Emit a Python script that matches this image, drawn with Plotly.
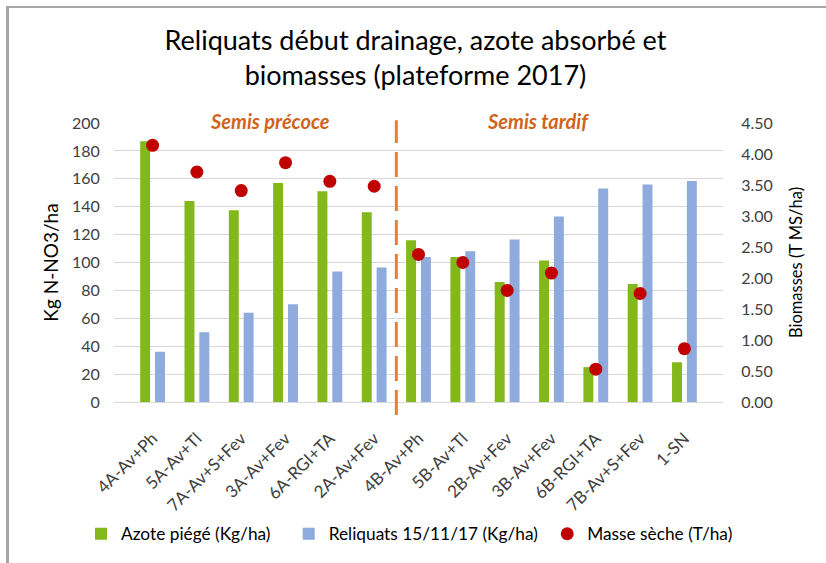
import plotly.graph_objects as go

categories = ["4A-Av+Ph", "5A-Av+Tl", "7A-Av+S+Fev", "3A-Av+Fev", "6A-RGI+TA", "2A-Av+Fev",
              "4B-Av+Ph", "5B-Av+Tl", "2B-Av+Fev", "3B-Av+Fev", "6B-RGI+TA", "7B-Av+S+Fev", "1-SN"]
azote_piege = [187, 144, 137.5, 157, 151, 136, 116, 104, 86, 101.5, 25, 84.5, 28.5]
reliquats = [36, 50, 64, 70, 93.5, 96.5, 104, 108, 116.5, 133, 153, 156, 158.5]
masse_seche = [4.14, 3.71, 3.41, 3.86, 3.56, 3.48, 2.38, 2.25, 1.80, 2.08, 0.53, 1.75, 0.86]
left_ticks = [0, 20, 40, 60, 80, 100, 120, 140, 160, 180, 200]
right_ticks = [0, 0.5, 1, 1.5, 2, 2.5, 3, 3.5, 4, 4.5]
series_names = ["Azote piégé (Kg/ha)", "Reliquats 15/11/17 (Kg/ha)", "Masse sèche (T/ha)"]

FONT = "Lato"
W, H = 826, 563
L, R, T, B = 114, 103, 123, 161
PW, PH = W - L - R, H - T - B
NB = "\u00a0"

fig = go.Figure()
fig.add_trace(go.Bar(x=categories, y=azote_piege, name=series_names[0] + NB * 3,
                     marker=dict(color="#82B81A", line=dict(width=0))))
fig.add_trace(go.Bar(x=categories, y=reliquats, name=series_names[1] + NB,
                     marker=dict(color="#8FAADC", line=dict(width=0))))
fig.add_trace(go.Scatter(x=categories, y=masse_seche, name=series_names[2], yaxis="y2",
                         mode="markers", marker=dict(color="#C00000", size=13)))

fig.update_layout(
    width=W, height=H,
    paper_bgcolor="white", plot_bgcolor="white",
    font=dict(family=FONT, color="#404040", size=15),
    margin=dict(l=L, r=R, t=T, b=B, autoexpand=False),
    barmode="group", bargap=0.33, bargroupgap=0.33,
    title=dict(text="Reliquats début drainage, azote absorbé et<br>biomasses (plateforme 2017)",
               x=0.503, xanchor="center", y=1 - 50 / H, yanchor="top",
               font=dict(family=FONT, size=27, color="#000000")),
    xaxis=dict(type="category", tickangle=-45, tickfont=dict(size=17, color="#404040"),
               showgrid=False, showline=True, linecolor="#D9D9D9", linewidth=1,
               ticks="outside", ticklen=19, tickcolor="rgba(0,0,0,0)"),
    yaxis=dict(range=[0, 200], tickvals=left_ticks, showgrid=True, gridcolor="#D9D9D9",
               gridwidth=1, zeroline=False, tickfont=dict(size=16, color="#404040"),
               ticks="outside", ticklen=10, tickcolor="rgba(0,0,0,0)",
               title=dict(text="Kg N-NO3/ha", font=dict(size=19, color="#000000"), standoff=8)),
    yaxis2=dict(range=[0, 4.5], tickvals=right_ticks, tickformat=".2f", overlaying="y",
                side="right", showgrid=False, zeroline=False,
                tickfont=dict(size=16, color="#404040"),
                ticks="outside", ticklen=14, tickcolor="rgba(0,0,0,0)",
                title=dict(text="Biomasses (T MS/ha)", font=dict(size=16.5, color="#000000"), standoff=18)),
    legend=dict(orientation="h", x=(81 - L) / PW, xanchor="left", y=-(516 - T - PH) / PH,
                yanchor="top", font=dict(size=17.3, color="#000000"), traceorder="normal",
                itemwidth=30),
    showlegend=True,
)

# dashed separator between the two sowing groups
fig.add_shape(type="line", xref="x", yref="paper", x0=5.5, x1=5.5, y0=-13 / PH, y1=1.01,
              line=dict(color="#ED7D31", width=3, dash="25px,9px"))

fig.add_annotation(text="<b><i>Semis précoce</i></b>", xref="x", yref="paper", x=2.66, y=1.007,
                   showarrow=False, yanchor="middle", bgcolor="white",
                   font=dict(family=FONT, size=20, color="#D0641C"))
fig.add_annotation(text="<b><i>Semis tardif</i></b>", xref="x", yref="paper", x=8.7, y=1.007,
                   showarrow=False, yanchor="middle", bgcolor="white",
                   font=dict(family=FONT, size=20, color="#D0641C"))

# outer frame (only left and top edges fall inside the picture)
fx = (7 - L) / PW
fy = 1 + (T - 6) / PH
fig.add_shape(type="line", xref="paper", yref="paper", layer="above",
              x0=fx, x1=fx, y0=-(B + 5) / PH, y1=fy,
              line=dict(color="#A6A6A6", width=2))
fig.add_annotation(text=" ", xref="paper", yref="paper", x=fx, y=fy,
                   xanchor="left", yanchor="top", showarrow=False,
                   width=W + 20, height=H + 20, borderpad=0,
                   bordercolor="#A6A6A6", borderwidth=2)

fig.write_html("out.html", config={"displayModeBar": False},
               post_script="document.body.style.margin='0';")
